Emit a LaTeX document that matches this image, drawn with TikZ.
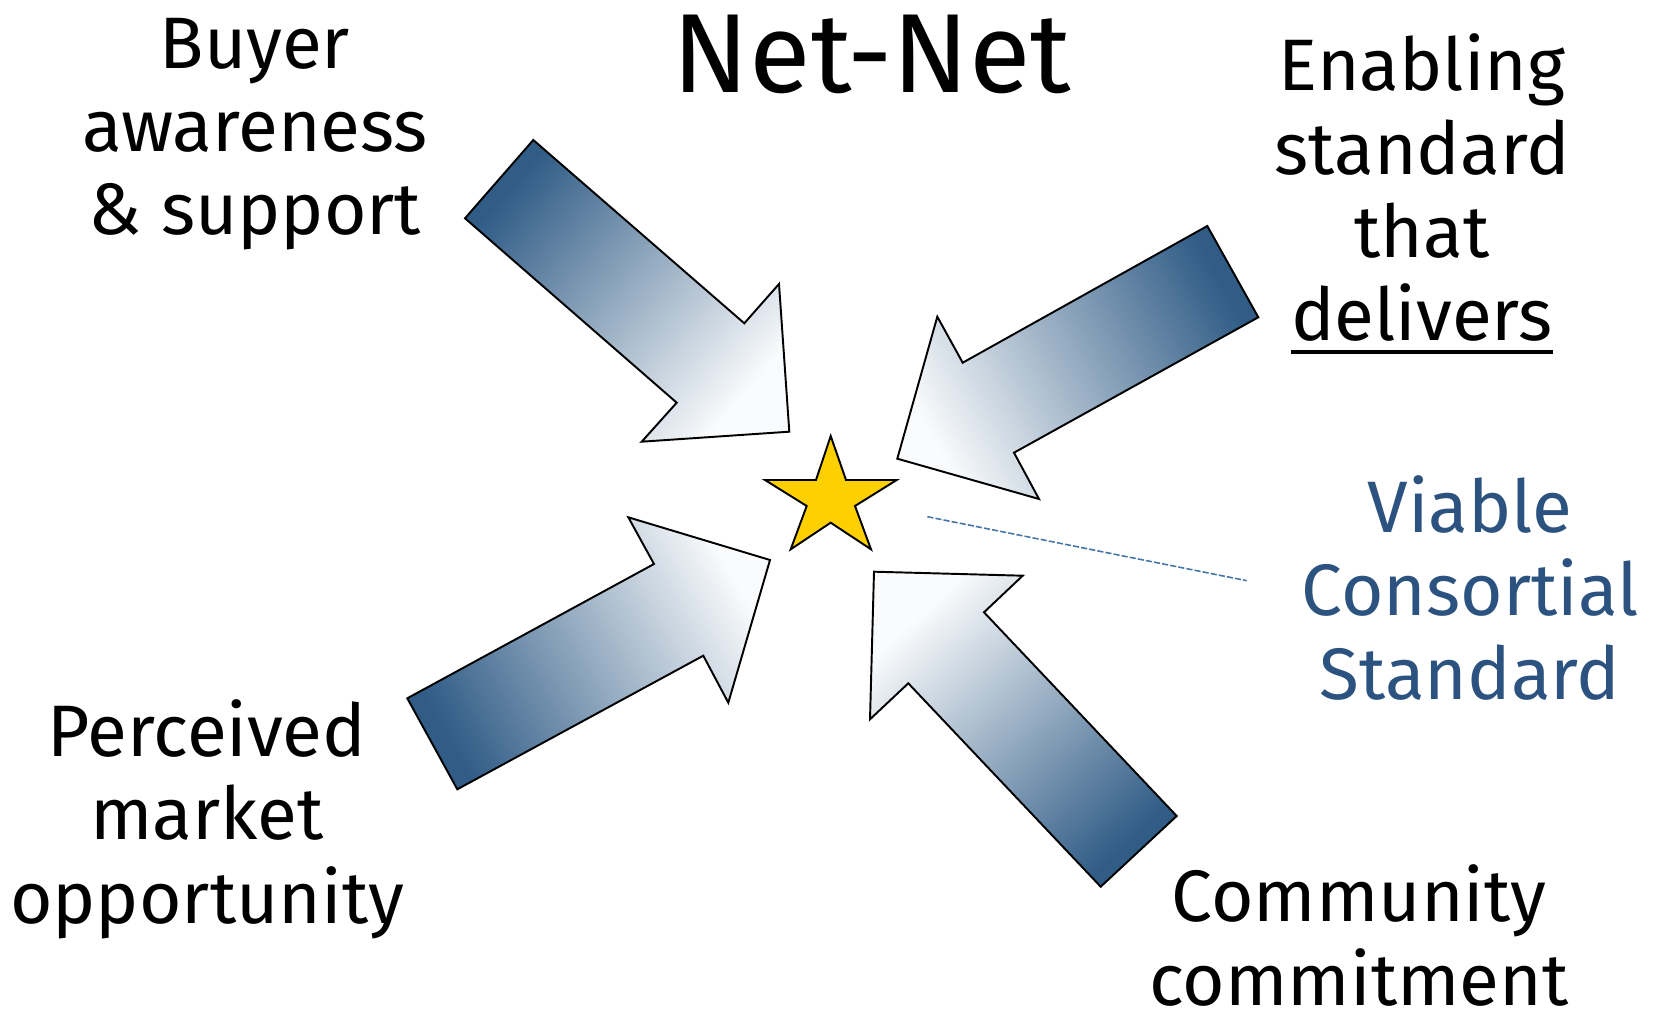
\documentclass[tikz,border=0pt]{standalone}
\usepackage{fontspec}
\setmainfont{Fira Sans}
\definecolor{arrowdark}{RGB}{48,92,134}
\definecolor{arrowlight}{RGB}{250,251,252}
\definecolor{starfill}{RGB}{255,208,0}
\definecolor{vcsblue}{RGB}{44,82,128}
\definecolor{dashblue}{RGB}{70,118,170}
\newcommand\ulword[1]{\setbox0\hbox{#1}\rlap{\rule[-0.26cm]{\wd0}{0.08cm}}\box0}
\begin{document}
\begin{tikzpicture}[x=0.02cm,y=-0.02cm,
  arrowshape/.style={draw=black, line width=1.1pt, line join=miter, left color=arrowdark, right color=arrowlight},
  lbl/.style={font=\fontsize{41.5}{47.5}\selectfont, align=center, inner sep=0pt, anchor=base},
  titlestyle/.style={font=\fontsize{64}{70}\selectfont, inner sep=0pt, anchor=base},
  starstyle/.style={draw=black, line width=1.1pt, fill=starfill, line join=miter},
  leader/.style={draw=dashblue, line width=0.9pt, dash pattern=on 3.5pt off 1.2pt}
]
\useasboundingbox (0,0) rectangle (1660,1016);

% title
\node[titlestyle] (title) at (872,93) {Net-Net};

% arrows
\path[arrowshape, shading angle=49]
  (533.3,140) -- (465,218.3) -- (676.7,402.7) -- (641.7,441.7)
  -- (789.3,431.7) -- (779,284) -- (744.3,323.3) -- cycle;
\path[arrowshape, shading angle=-61]
  (1207.3,226) -- (1258.3,317.3) -- (1014,452.7) -- (1039,499)
  -- (897.3,458.7) -- (937.3,316.7) -- (962.7,362.7) -- cycle;
\path[arrowshape, shading angle=118.6]
  (457.3,789.3) -- (407.3,698.3) -- (654,564) -- (628.3,517.3)
  -- (770,560) -- (728.3,702.7) -- (703.3,655.7) -- cycle;
\path[arrowshape, shading angle=223.4]
  (1100.7,886.7) -- (1176.7,816) -- (984,612.3) -- (1022.7,575.7)
  -- (874,571.7) -- (870,719.3) -- (908.3,683.3) -- cycle;

% star
\path[starstyle]
  (830.7,436) -- (846,480) -- (896.7,480) -- (855,506) -- (871,549.3)
  -- (830.7,522.7) -- (790.7,549.3) -- (806.7,506) -- (765,480)
  -- (816,480) -- cycle;

% labels (anchor = baseline of last line)
\node[lbl] (buyer) at (255,235) {Buyer\\awareness\\\& support};
\node[lbl] (enabling) at (1422,341) {Enabling\\standard\\that\\\ulword{delivers}};
\node[lbl] (perceived) at (207,923) {Perceived\\market\\opportunity};
\node[lbl] (community) at (1359,1005) {Community\\commitment};
\node[lbl, text=vcsblue] (vcs) at (1470,699) {Viable\\Consortial\\Standard};

% leader line
\coordinate (leadstart) at (927.3,516.7);
\coordinate (leadend) at (1246.7,580.7);
\draw[leader] (leadstart) -- (leadend);
\end{tikzpicture}
\end{document}
